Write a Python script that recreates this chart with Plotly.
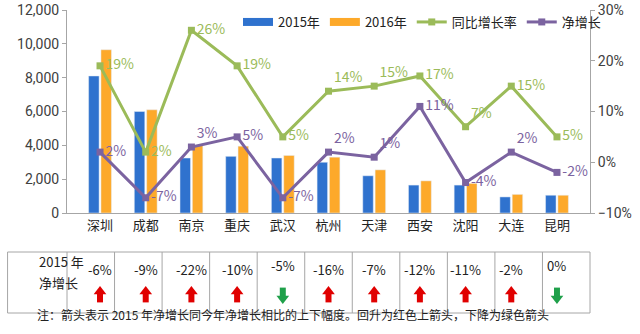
import plotly.graph_objects as go

cities = ["深圳", "成都", "南京", "重庆", "武汉", "杭州", "天津", "西安", "沈阳", "大连", "昆明"]
v2015 = [8100, 6000, 3250, 3350, 3250, 3000, 2200, 1650, 1650, 950, 1050]
v2016 = [9650, 6100, 4000, 3950, 3400, 3300, 2550, 1900, 1750, 1100, 1050]
yoy = [0.19, 0.02, 0.26, 0.19, 0.05, 0.14, 0.15, 0.17, 0.07, 0.15, 0.05]
net = [0.02, -0.07, 0.03, 0.05, -0.07, 0.02, 0.01, 0.11, -0.04, 0.02, -0.02]
net2015 = ["-6%", "-9%", "-22%", "-10%", "-5%", "-16%", "-7%", "-12%", "-11%", "-2%", "0%"]
arrow_dir = ["up", "up", "up", "up", "down", "up", "up", "up", "up", "up", "down"]
left_ticks = [0, 2000, 4000, 6000, 8000, 10000, 12000]
right_ticks = [-0.10, 0.0, 0.10, 0.20, 0.30]

yoy_pos = ["middle right", "middle right", "middle right", "middle right", "middle right",
           "top right", "top right", "middle right", "top right", "middle right", "middle right"]
net_pos = ["middle right", "middle right", "top right", "middle right", "middle right",
           "top right", "top right", "middle right", "middle right", "top right", "middle right"]

FONT = "Noto Sans CJK SC"
TICKFONT = "Roboto"
BLUE = "#2F72CE"
ORANGE = "#FDA92A"
GREEN = "#9BBB59"
PURPLE = "#7B63A0"
RED_ARROW = "#E00000"
GREEN_ARROW = "#1FA04A"
W, H = 640, 334
MT, MB = 10, 0
TABLE_TOP = 240  # pixel row where the helper axis for the table starts


def py(pix):
    return (H - MB - pix) / (H - MT - MB)


fig = go.Figure()
fig.add_trace(go.Bar(name="2015年", x=cities, y=v2015, marker_color=BLUE, showlegend=False))
fig.add_trace(go.Bar(name="2016年", x=cities, y=v2016, marker_color=ORANGE, showlegend=False))
# legend entries styled as wide rectangles
fig.add_trace(go.Scatter(name="2015年", x=[None], y=[None], mode="lines",
                         line=dict(color=BLUE, width=8)))
fig.add_trace(go.Scatter(name="2016年", x=[None], y=[None], mode="lines",
                         line=dict(color=ORANGE, width=8)))
fig.add_trace(go.Scatter(name="同比增长率", x=cities, y=yoy, yaxis="y2",
                         mode="lines+markers+text",
                         line=dict(color=GREEN, width=3),
                         marker=dict(symbol="square", size=7, color=GREEN),
                         text=[f"{v:.0%}" for v in yoy], textposition=yoy_pos,
                         textfont=dict(color=GREEN, size=14, family=FONT),
                         cliponaxis=False))
fig.add_trace(go.Scatter(name="净增长", x=cities, y=net, yaxis="y2",
                         mode="lines+markers+text",
                         line=dict(color=PURPLE, width=3),
                         marker=dict(symbol="square", size=7, color=PURPLE),
                         text=[f"{v:.0%}" for v in net], textposition=net_pos,
                         textfont=dict(color=PURPLE, size=14, family=FONT),
                         cliponaxis=False))

# table arrows: head (triangle) + shaft (thick vertical line marker) on a helper axis
head_y = [291.5 if d == "up" else 298.5 for d in arrow_dir]
shaft_y = [297.5 if d == "up" else 292.5 for d in arrow_dir]
head_sym = ["triangle-up" if d == "up" else "triangle-down" for d in arrow_dir]
arrow_col = [RED_ARROW if d == "up" else GREEN_ARROW for d in arrow_dir]
fig.add_trace(go.Scatter(x=cities, y=shaft_y, yaxis="y3", mode="markers", showlegend=False,
                         hoverinfo="skip", cliponaxis=False,
                         marker=dict(symbol="line-ns", size=7,
                                     line=dict(color=arrow_col, width=6))))
fig.add_trace(go.Scatter(x=cities, y=head_y, yaxis="y3", mode="markers", showlegend=False,
                         hoverinfo="skip", cliponaxis=False,
                         marker=dict(symbol=head_sym, size=11, color=arrow_col,
                                     line=dict(width=0))))

n = len(cities)
shapes = []
ytop, ybot = py(252), py(313)
left = -1.25 / n
line_col = "#A6A6A6"
shapes.append(dict(type="line", xref="paper", yref="paper", x0=left, x1=1, y0=ytop, y1=ytop,
                   line=dict(color=line_col, width=1)))
shapes.append(dict(type="line", xref="paper", yref="paper", x0=left, x1=1, y0=ybot, y1=ybot,
                   line=dict(color=line_col, width=1)))
for k in [left] + [i / n for i in range(n + 1)]:
    shapes.append(dict(type="line", xref="paper", yref="paper", x0=k, x1=k, y0=ybot, y1=ytop,
                       line=dict(color=line_col, width=1)))

ann = []
ann.append(dict(xref="paper", yref="paper", x=left / 2, y=py(273), text="2015 年",
                showarrow=False, font=dict(size=13, family=FONT, color="#222")))
ann.append(dict(xref="paper", yref="paper", x=left / 2, y=py(294), text="净增长",
                showarrow=False, font=dict(size=13, family=FONT, color="#222")))
for c, t, d in zip(cities, net2015, arrow_dir):
    ann.append(dict(xref="x", yref="paper", x=c, y=py(281 if d == "up" else 277), text=t,
                    showarrow=False, font=dict(size=13, family=FONT, color="#222")))
ann.append(dict(xref="paper", yref="paper", x=(293 - 67) / 523, y=py(325),
                text="注：箭头表示 2015 年净增长同今年净增长相比的上下幅度。回升为红色上箭头，下降为绿色箭头",
                showarrow=False, font=dict(size=12, family=FONT, color="#222")))

fig.update_layout(
    width=W, height=H,
    margin=dict(l=67, r=50, t=MT, b=MB, autoexpand=False),
    paper_bgcolor="white", plot_bgcolor="rgba(0,0,0,0)",
    font=dict(family=FONT, size=13, color="#404040"),
    barmode="group", bargap=0.46, bargroupgap=0.15,
    xaxis=dict(showline=True, linecolor="#A6A6A6", ticks="", showgrid=False,
               automargin=False, tickfont=dict(size=13, color="#222")),
    yaxis=dict(domain=[py(213), 1], range=[0, 12000], tickvals=left_ticks, tickformat=",",
               showline=True, linecolor="#A6A6A6", ticks="outside", ticklen=4,
               ticklabeloverflow="allow", tickfont=dict(size=14, family=TICKFONT),
               automargin=False, tickcolor="#A6A6A6", showgrid=False, zeroline=False),
    yaxis2=dict(overlaying="y", side="right", range=[-0.10, 0.30], tickvals=right_ticks,
                tickformat=".0%", showline=True, linecolor="#A6A6A6", ticks="outside",
                ticklabeloverflow="allow", tickfont=dict(size=14, family=TICKFONT),
                automargin=False, ticklen=4, tickcolor="#A6A6A6", showgrid=False,
                zeroline=False),
    yaxis3=dict(domain=[0, py(TABLE_TOP)], range=[H - MB, TABLE_TOP], visible=False,
                fixedrange=True),
    legend=dict(orientation="h", x=(238 - 67) / 523, y=py(22), xanchor="left",
                yanchor="middle", bgcolor="rgba(0,0,0,0)", font=dict(size=13, color="#222"),
                itemwidth=30, tracegroupgap=0),
    shapes=shapes, annotations=ann,
)
fig.write_html("out.html")
